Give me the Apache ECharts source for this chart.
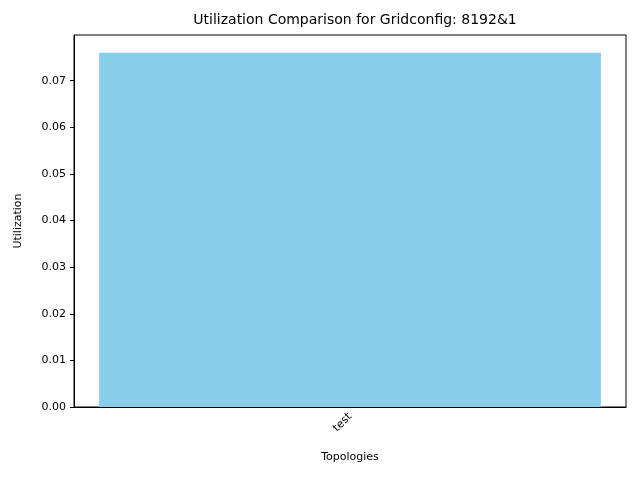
<!DOCTYPE html>
<html>
<head>
<meta charset="utf-8">
<script src="https://cdn.jsdelivr.net/npm/echarts@6/dist/echarts.min.js"></script>
<style>html,body{margin:0;padding:0;background:#fff}#main{width:640px;height:480px}</style>
</head>
<body>
<div id="main"></div>
<script>
var categories = ['test'];
var values = [0.076];
var yTicks = [0, 0.01, 0.02, 0.03, 0.04, 0.05, 0.06, 0.07];

var myChart = echarts.init(document.getElementById('main'));
var font = 'DejaVu Sans';
var option = {
  animation: false,
  title: {
    text: 'Utilization Comparison for Gridconfig: 8192&1',
    left: 350, top: 8, textAlign: 'center',
    textStyle: { fontFamily: font, fontSize: 14, fontWeight: 'normal', color: '#000' }
  },
  grid: { left: 74, right: 14, top: 35, bottom: 73, show: true, borderColor: '#000', borderWidth: 1 },
  xAxis: {
    type: 'category',
    data: categories,
    name: 'Topologies', nameLocation: 'middle', nameGap: 45,
    nameTextStyle: { fontFamily: font, fontSize: 11, color: '#000' },
    axisLine: { lineStyle: { color: '#000' } },
    axisTick: { alignWithLabel: true, length: 4, lineStyle: { color: '#000' } },
    axisLabel: { rotate: 45, fontFamily: font, fontSize: 11, color: '#000', margin: 8 }
  },
  yAxis: {
    type: 'value',
    min: 0, max: 0.0798, interval: 0.01,
    name: 'Utilization', nameLocation: 'middle', nameGap: 50,
    nameTextStyle: { fontFamily: font, fontSize: 11, color: '#000' },
    splitLine: { show: false },
    axisLine: { show: true, lineStyle: { color: '#000' } },
    axisTick: { show: true, inside: false, length: 4, lineStyle: { color: '#000' } },
    axisLabel: {
      fontFamily: font, fontSize: 11, color: '#000', showMaxLabel: false,
      formatter: function (v) { return v.toFixed(2); }
    }
  },
  series: [{
    type: 'bar',
    data: values,
    barWidth: '90.9%',
    itemStyle: { color: '#87ceeb' }
  }]
};
myChart.setOption(option);
</script>
</body>
</html>
